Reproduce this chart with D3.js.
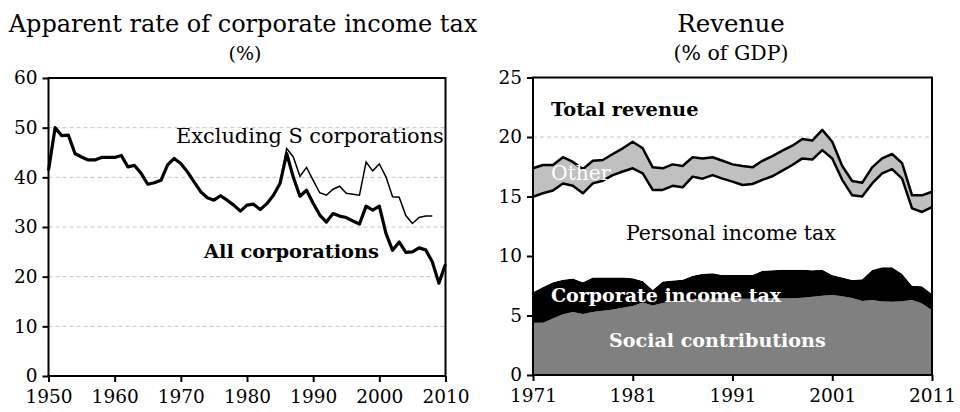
<!DOCTYPE html>
<html>
<head>
<meta charset="utf-8">
<script src="https://cdn.jsdelivr.net/npm/d3@7"></script>
<style>
    body { margin: 0; background: #fff; }
    svg { display: block; font-family: 'DejaVu Serif', serif; }
</style>
</head>
<body>
<svg id="chart" width="960" height="412"></svg>
<script>
// left panel: apparent rate of corporate income tax (%)
const rateYears = d3.range(1950, 2011)
const allCorps = [
    41.4, 50.0, 48.4, 48.5, 44.8, 44.1, 43.5, 43.5, 44.0, 44.0,
    44.0, 44.4, 42.1, 42.4, 40.8, 38.6, 38.9, 39.4, 42.5, 43.8,
    42.8, 41.1, 39.1, 37.1, 35.9, 35.4, 36.3, 35.4, 34.4, 33.2,
    34.4, 34.6, 33.5, 34.7, 36.4, 38.8, 44.8, 40.0, 36.2, 37.4,
    34.8, 32.4, 31.0, 32.7, 32.2, 31.9, 31.2, 30.6, 34.2, 33.4,
    34.2, 28.7, 25.3, 27.0, 24.9, 25.0, 25.8, 25.4, 23.0, 18.7,
    22.5,
]
const exclYears = d3.range(1984, 2009)
const exclS = [
    36.4, 38.8, 45.8, 44.1, 40.2, 42.0, 39.4, 36.9, 36.4, 37.6,
    38.2, 36.8, 36.6, 36.4, 43.1, 41.3, 42.7, 40.1, 36.1, 36.0,
    32.3, 30.7, 31.9, 32.2, 32.2,
]
const rateTicksY = [0, 10, 20, 30, 40, 50, 60]
const rateTicksX = [1950, 1960, 1970, 1980, 1990, 2000, 2010]

// right panel: revenue (% of GDP), components stacked bottom to top
const revYears = d3.range(1971, 2012)
const social = [
    4.4, 4.4, 4.75, 5.1, 5.3, 5.12, 5.3, 5.4, 5.5, 5.65,
    5.8, 6.1, 5.85, 6.05, 6.2, 6.25, 6.35, 6.4, 6.4, 6.45,
    6.45, 6.4, 6.4, 6.45, 6.45, 6.45, 6.45, 6.5, 6.58, 6.66,
    6.72, 6.62, 6.47, 6.22, 6.3, 6.18, 6.16, 6.2, 6.3, 6.0,
    5.45,
]
const corporate = [
    2.55, 3.0, 3.05, 2.9, 2.8, 2.68, 2.9, 2.8, 2.7, 2.55,
    2.32, 1.8, 1.3, 1.8, 1.75, 1.75, 2.0, 2.1, 2.14, 1.95,
    1.95, 2.0, 2.0, 2.32, 2.35, 2.4, 2.4, 2.35, 2.22, 2.19,
    1.68, 1.58, 1.51, 1.82, 2.52, 2.87, 2.89, 2.3, 1.2, 1.45,
    1.35,
]
const personal = [
    8.03, 7.87, 7.7, 8.1, 7.8, 7.47, 7.9, 8.13, 8.6, 8.9,
    9.25, 9.05, 8.4, 7.7, 7.95, 7.77, 8.32, 8.0, 8.26, 8.1,
    7.85, 7.57, 7.65, 7.63, 7.9, 8.32, 8.8, 9.35, 9.3, 10.05,
    9.8, 8.2, 7.12, 6.96, 7.28, 7.9, 8.25, 8.0, 6.5, 6.25,
    7.3,
]
const other = [
    2.39, 2.38, 2.15, 2.2, 2.0, 2.03, 1.9, 1.74, 1.77, 1.95,
    2.23, 2.1, 1.9, 1.82, 1.8, 1.79, 1.63, 1.7, 1.5, 1.5,
    1.45, 1.59, 1.4, 1.6, 1.7, 1.68, 1.62, 1.63, 1.6, 1.7,
    1.4, 1.16, 1.2, 1.15, 1.35, 1.25, 1.27, 1.3, 1.1, 1.4,
    1.3,
]
const revKeys = ['social', 'corporate', 'personal', 'other']
const revColors = { social: '#808080', corporate: '#000000', personal: '#ffffff', other: '#c0c0c0' }
const revTicksY = [0, 5, 10, 15, 20, 25]
const revTicksX = [1971, 1981, 1991, 2001, 2011]

const svg = d3.select('#chart')

function frame(g, x, y) {
    let [x0, x1] = x.range()
    let [y0, y1] = y.range()
    g.append('rect')
        .attr('x', x0).attr('y', y1)
        .attr('width', x1 - x0).attr('height', y0 - y1)
        .attr('fill', 'none').attr('stroke', '#000').attr('stroke-width', 2)
}

function grid(g, x, y, ticks) {
    g.append('g').selectAll('line')
        .data(ticks.slice(1, -1))
        .join('line')
        .attr('x1', x.range()[0]).attr('x2', x.range()[1])
        .attr('y1', d => y(d)).attr('y2', d => y(d))
        .attr('stroke', '#c4c4c4').attr('stroke-width', 1)
        .attr('stroke-dasharray', '4,3')
}

function axes(g, x, y, ticksX, ticksY) {
    let ax = g.append('g')
        .attr('transform', 'translate(0,' + y.range()[0] + ')')
        .call(d3.axisBottom(x).tickValues(ticksX).tickFormat(d3.format('d')).tickSize(6).tickPadding(8).tickSizeOuter(0))
    let ay = g.append('g')
        .attr('transform', 'translate(' + x.range()[0] + ',0)')
        .call(d3.axisLeft(y).tickValues(ticksY).tickSize(6).tickPadding(5).tickSizeOuter(0))
    for (let a of [ax, ay]) {
        a.select('.domain').remove()
        a.selectAll('line').attr('stroke', '#000').attr('stroke-width', 2)
        a.selectAll('text').attr('fill', '#000').style('font-size', '18.5px').style('font-family', 'DejaVu Serif, serif')
    }
}

function label(g, txt, x, y, opts) {
    opts = opts || {}
    g.append('text')
        .attr('x', x).attr('y', y)
        .attr('text-anchor', opts.anchor || 'start')
        .attr('fill', opts.fill || '#000')
        .style('font-size', (opts.size || 18) + 'px')
        .style('font-weight', opts.bold ? 'bold' : 'normal')
        .text(txt)
}

// ---- left panel
let xL = d3.scaleLinear().domain([1950, 2010]).range([48.5, 445.5])
let yL = d3.scaleLinear().domain([0, 60]).range([376, 78])
let gL = svg.append('g')

grid(gL, xL, yL, rateTicksY)

let lineL = d3.line().x(d => xL(d[0])).y(d => yL(d[1]))
gL.append('path')
    .datum(d3.zip(rateYears, allCorps))
    .attr('d', lineL)
    .attr('fill', 'none').attr('stroke', '#000').attr('stroke-width', 3.2)
    .attr('stroke-linejoin', 'round')
gL.append('path')
    .datum(d3.zip(exclYears, exclS))
    .attr('d', lineL)
    .attr('fill', 'none').attr('stroke', '#000').attr('stroke-width', 1.5)

frame(gL, xL, yL)
axes(gL, xL, yL, rateTicksX, rateTicksY)

label(gL, 'Apparent rate of corporate income tax', 243, 32, { anchor: 'middle', size: 24 })
label(gL, '(%)', 245, 60, { anchor: 'middle', size: 19 })
label(gL, 'Excluding S corporations', 176, 143, { size: 20.9 })
label(gL, 'All corporations', 204, 258, { size: 19.4, bold: true })

// ---- right panel
let xR = d3.scaleLinear().domain([1971, 2011]).range([533, 932])
let yR = d3.scaleLinear().domain([0, 25]).range([375, 77.5])
let gR = svg.append('g')

grid(gR, xR, yR, revTicksY)

let revRows = revYears.map((yr, i) => ({
    year: yr, social: social[i], corporate: corporate[i], personal: personal[i], other: other[i],
}))
let stacked = d3.stack().keys(revKeys)(revRows)

let area = d3.area()
    .x(d => xR(d.data.year))
    .y0(d => yR(d[0]))
    .y1(d => yR(d[1]))
gR.append('g').selectAll('path')
    .data(stacked)
    .join('path')
    .attr('d', area)
    .attr('fill', d => revColors[d.key])

// black outlines on both edges of the "other" band
let edge = d3.line().x(d => xR(d.data.year)).y(d => yR(d[1]))
gR.append('g').selectAll('path')
    .data([stacked[2], stacked[3]])
    .join('path')
    .attr('d', edge)
    .attr('fill', 'none').attr('stroke', '#000').attr('stroke-width', 2.5)
    .attr('stroke-linejoin', 'round')

frame(gR, xR, yR)
axes(gR, xR, yR, revTicksX, revTicksY)

label(gR, 'Revenue', 731, 32, { anchor: 'middle', size: 24.5 })
label(gR, '(% of GDP)', 731, 60, { anchor: 'middle', size: 20.5 })
label(gR, 'Total revenue', 551, 116, { size: 19.4, bold: true })
label(gR, 'Other', 551, 180, { size: 20.3, fill: '#fff' })
label(gR, 'Personal income tax', 626, 240, { size: 20.5 })
label(gR, 'Corporate income tax', 551, 302, { size: 19, bold: true, fill: '#fff' })
label(gR, 'Social contributions', 609, 347, { size: 19.1, bold: true, fill: '#fff' })
</script>
</body>
</html>
